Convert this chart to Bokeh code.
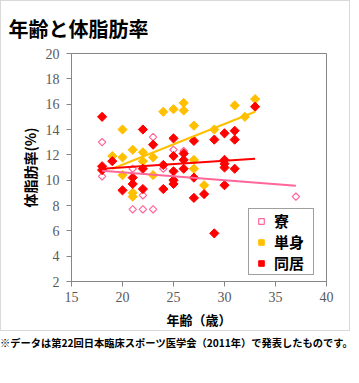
import math
from bokeh.plotting import figure
from bokeh.models import Range1d, FixedTicker, Div
from bokeh.layouts import column
from bokeh.embed import file_html
from bokeh.resources import INLINE

# ---- data ----
ryo_age = [18, 18, 21, 21, 22, 22, 23, 23, 24, 25, 26, 37]
ryo_fat = [13.0, 10.3, 10.9, 7.7, 8.8, 7.7, 7.7, 13.4, 10.9, 12.4, 12.3, 8.7]

tanshin_age = [19, 20, 20, 20, 21, 21, 21, 22, 22, 23, 23, 24, 25, 26, 26, 27, 27, 27, 28, 29, 31, 32, 33]
tanshin_fat = [11.9, 14.0, 11.8, 10.4, 12.4, 9.0, 8.7, 12.2, 11.5, 11.8, 10.4, 15.4, 15.6, 16.1, 15.5,
               14.3, 11.6, 10.9, 9.6, 14.0, 15.9, 15.0, 16.4]

doukyo_age = [18, 18, 18, 19, 20, 21, 21, 22, 22, 22, 23, 24, 24, 25, 25, 25, 25, 25, 26, 26, 26,
              27, 27, 27, 28, 29, 29, 30, 30, 30, 30, 30, 31, 31, 31, 33]
doukyo_fat = [15.0, 11.1, 10.8, 11.5, 9.2, 10.2, 9.7, 14.0, 10.9, 9.3, 12.8, 11.2, 9.3, 13.3, 11.9,
              10.7, 10.0, 9.7, 12.1, 11.6, 10.9, 13.1, 10.2, 8.6, 8.9, 13.2, 5.8, 13.7, 11.6, 11.3,
              11.0, 9.6, 13.9, 13.2, 10.9, 15.8]

# linear trend lines (end points)
ryo_trend_x = [18, 37]
ryo_trend_y = [10.75, 9.55]
tanshin_trend_x = [19, 33]
tanshin_trend_y = [10.9, 15.4]
doukyo_trend_x = [18, 33]
doukyo_trend_y = [10.9, 11.7]

series_names = ["寮", "単身", "同居"]
x_ticks = [15, 20, 25, 30, 35, 40]
y_ticks = [2, 4, 6, 8, 10, 12, 14, 16, 18, 20]

title_text = "年齢と体脂肪率"
x_label = "年齢（歳）"
y_label = "体脂肪率(%)"
footnote = "※データは第22回日本臨床スポーツ医学会（2011年）で発表したものです。"

JP = "'Noto Sans CJK JP'"
SERIF = "'Liberation Serif', 'DejaVu Serif', serif"
PINK = "#FF6699"
ORANGE = "#FFC000"
RED = "#FF0000"
AX = "#868686"

p = figure(width=350, height=331, x_range=Range1d(15, 40), y_range=Range1d(2, 20),
           output_backend="svg", toolbar_location=None, title=title_text,
           min_border_left=70, min_border_right=25, min_border_top=49, min_border_bottom=51)
p.grid.visible = False
p.outline_line_color = AX
p.outline_line_width = 1
p.background_fill_color = "white"
p.border_fill_color = "white"
p.styles = {"border": "1px solid #D9D9D9"}

p.title.align = "left"
p.title.offset = -63
p.title.standoff = 21
p.title.text_font = JP
p.title.text_font_style = "bold"
p.title.text_font_size = "20px"
p.title.text_color = "#000000"

for ax in (p.xaxis, p.yaxis):
    ax.axis_line_color = AX
    ax.major_tick_line_color = AX
    ax.minor_tick_line_color = None
    ax.major_tick_in = 0
    ax.major_tick_out = 5
    ax.major_label_text_font = SERIF
    ax.major_label_text_font_size = "14px"
    ax.major_label_text_color = "#595959"
    ax.axis_label_text_font = JP
    ax.axis_label_text_font_style = "bold"
    ax.axis_label_text_color = "#000000"
p.xaxis.major_label_standoff = 5
p.yaxis.major_label_standoff = 7
p.xaxis.ticker = FixedTicker(ticks=x_ticks)
p.yaxis.ticker = FixedTicker(ticks=y_ticks)
p.xaxis.axis_label = x_label
p.xaxis.axis_label_text_font_size = "13px"
p.xaxis.axis_label_standoff = 5
p.yaxis.axis_label = y_label
p.yaxis.axis_label_text_font_size = "14px"
p.yaxis.axis_label_standoff = 3

ang = math.pi / 4
p.scatter(ryo_age, ryo_fat, marker="square", size=5.2, angle=ang,
          fill_color="white", line_color=PINK, line_width=1.2, legend_label=series_names[0])
p.scatter(tanshin_age, tanshin_fat, marker="square", size=6.5, angle=ang,
          fill_color=ORANGE, line_color=ORANGE, legend_label=series_names[1])
p.scatter(doukyo_age, doukyo_fat, marker="square", size=6.5, angle=ang,
          fill_color=RED, line_color=RED, legend_label=series_names[2])

p.line(ryo_trend_x, ryo_trend_y, line_color=PINK, line_width=2)
p.line(tanshin_trend_x, tanshin_trend_y, line_color=ORANGE, line_width=2)
p.line(doukyo_trend_x, doukyo_trend_y, line_color=RED, line_width=2)

lg = p.legend[0]
lg.location = (177, 6)
lg.padding = 1
lg.spacing = 0
lg.margin = 0
lg.glyph_width = 22
lg.glyph_height = 14
lg.label_height = 18
lg.label_width = 38
lg.label_standoff = 2
lg.label_text_font = JP
lg.label_text_font_style = "bold"
lg.label_text_font_size = "15px"
lg.label_text_color = "#000000"
lg.border_line_color = "#404040"
lg.border_line_width = 1
lg.background_fill_color = "white"
lg.background_fill_alpha = 1

note = Div(text=footnote, width=357, height=26,
           styles={"font-family": "'Noto Sans CJK JP'", "font-weight": "bold",
                   "font-size": "10.25px", "white-space": "nowrap", "color": "#000000",
                   "line-height": "24px", "margin": "0", "padding": "0"})

layout = column(p, note, spacing=0)
open("out.html", "w").write(file_html(layout, INLINE))
